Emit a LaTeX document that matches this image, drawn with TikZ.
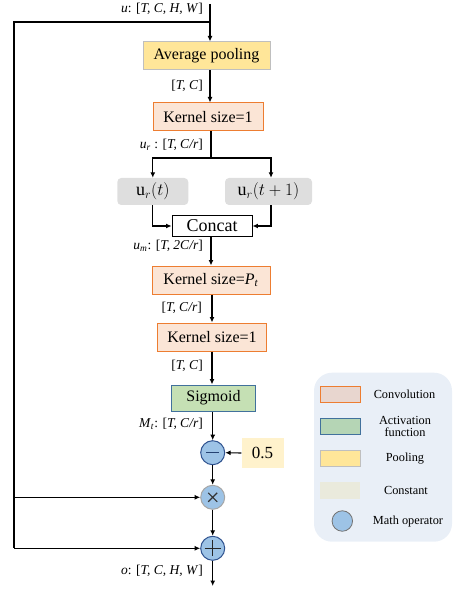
\documentclass[tikz,border=0pt]{standalone}
\usepackage{fontspec}
\setmainfont{Liberation Serif}
\usetikzlibrary{arrows.meta,calc}

\definecolor{poolfill}{HTML}{FFE699}
\definecolor{poolline}{HTML}{BFBFBF}
\definecolor{convfill}{HTML}{FBE5D6}
\definecolor{convline}{HTML}{ED7D31}
\definecolor{actfill}{HTML}{C5E0B4}
\definecolor{actline}{HTML}{41719C}
\definecolor{greybox}{HTML}{DEDEDE}
\definecolor{constfill}{HTML}{FFF2CC}
\definecolor{opfill}{HTML}{9DC3E6}
\definecolor{opdark}{HTML}{2F528F}
\definecolor{opgrey}{HTML}{A6A6A6}
\definecolor{legbg}{HTML}{E9EFF7}
\definecolor{legconv}{HTML}{E8D6CF}
\definecolor{legact}{HTML}{B5D5B5}
\definecolor{legconst}{HTML}{EAEADC}

\tikzset{
  arr/.style={line width=1.1pt,-{Latex[length=5.5pt,width=5pt]}},
  ln/.style={line width=1.1pt},
  boxlabel/.style={font=\rmfamily\fontsize{16}{18}\selectfont},
  poolbox/.style={boxlabel,draw=poolline,fill=poolfill,line width=1pt,minimum height=28pt,inner sep=0pt},
  convbox/.style={boxlabel,draw=convline,fill=convfill,line width=1pt,minimum height=28pt,inner sep=0pt},
  actbox/.style={boxlabel,draw=actline,fill=actfill,line width=1pt,minimum height=26pt,inner sep=0pt},
  greyterm/.style={fill=greybox,rounded corners=4pt,minimum height=27pt,inner sep=0pt,font=\rmfamily\fontsize{18}{20}\selectfont},
  opnode/.style={circle,fill=opfill,line width=1pt,minimum size=24pt,inner sep=0pt},
  shape label/.style={anchor=east,inner sep=0pt,font=\rmfamily\fontsize{13.5}{15}\selectfont},
  legtext/.style={font=\rmfamily\fontsize{12.3}{13.5}\selectfont,align=center,inner sep=0pt},
}

\begin{document}
\begin{tikzpicture}[x=1pt,y=-1pt]
\useasboundingbox (0,0) rectangle (454,593);

% ---------- main column ----------
\node[poolbox,minimum width=127pt] (pool) at (206.5,56) {Average pooling};
\node[convbox,minimum width=110pt] (k1) at (208,117) {Kernel size=1};
\node[greyterm,minimum width=71pt] (ut) at (152.8,191.5) {$\mathrm{u}_r(t)$};
\node[greyterm,minimum width=87pt] (ut1) at (268.5,191.5) {$\mathrm{u}_r(t+1)$};
\node[draw,fill=white,line width=0.9pt,minimum width=80pt,minimum height=21pt,inner sep=0pt,
      font=\rmfamily\fontsize{18}{20}\selectfont] (concat) at (212,226) {Concat};
\node[convbox,minimum width=118pt] (kpt) at (211,280) {Kernel size=\textit{P}\textsubscript{\textit{t}}};
\node[convbox,minimum width=109pt] (k2) at (212,337) {Kernel size=1};
\node[actbox,minimum width=84pt] (sig) at (213.5,398) {Sigmoid};
\node[opnode,draw=opdark] (minus) at (212.7,452.7) {};
\node[opnode,draw=opgrey] (times) at (212.7,497.3) {};
\node[opnode,draw=opdark] (plus) at (212.7,548.3) {};
\node[fill=constfill,minimum width=42pt,minimum height=30pt,inner sep=0pt,
      font=\rmfamily\fontsize{17}{19}\selectfont] (half) at (262.5,453) {0.5};

% operator glyphs
\draw[line width=1.3pt,opdark!80!black] ($(minus)+(-6.5,0)$) -- ($(minus)+(6.5,0)$);
\draw[line width=1.2pt,black!80] ($(times)+(-4.5,-4.5)$) -- ($(times)+(4.5,4.5)$)
                                 ($(times)+(-4.5,4.5)$) -- ($(times)+(4.5,-4.5)$);
\draw[line width=1.4pt,black!85] ($(plus)+(-8,0)$) -- ($(plus)+(8,0)$)
                                 ($(plus)+(0,-8)$) -- ($(plus)+(0,8)$);

% ---------- connectors ----------
\coordinate (in) at (210,4);
\coordinate (fork) at (210,22);
\coordinate (left) at (14,22);
\coordinate (split) at (211,158);
\coordinate (rx) at (271,158);
\coordinate (out) at (212.7,586);

\draw[arr] (in) -- (pool.north -| in);
\draw[ln] (fork) -- (left) -- (left |- plus);
\draw[arr] (left |- plus) -- (plus.west);
\draw[arr] (left |- times) -- (times.west);

\draw[arr] (pool.south -| in) -- (k1.north -| in);
\draw[ln] (k1.south -| split) -- (split);
\draw[arr] (split) -| (ut.north);
\draw[arr] (split) -- (rx) -- (ut1.north -| rx);
\draw[arr] (ut.south) |- (concat.west);
\draw[arr] (ut1.south -| rx) |- (concat.east);
\draw[arr] (concat.south -| kpt) -- (kpt.north);
\draw[arr] (kpt.south -| k2) -- (k2.north);
\draw[arr] (k2.south) -- (k2.south |- sig.north);
\draw[arr] (sig.south -| minus) -- (minus.north);
\draw[arr] (half.west) -- (minus.east);
\draw[arr] (minus.south) -- (times.north);
\draw[arr] (times.south) -- (plus.north);
\draw[arr] (plus.south) -- (out);

% ---------- shape labels ----------
\node[shape label] (l0) at (203,9)   {\textit{u}: [\textit{T, C, H, W}]};
\node[shape label] (l1) at (203,86)  {[\textit{T, C}]};
\node[shape label] (l2) at (203,145) {\textit{u}\textsubscript{\textit{r}} : [\textit{T, C/r}]};
\node[shape label] (l3) at (203,246) {\textit{u}\textsubscript{\textit{m}}: [\textit{T, 2C/r}]};
\node[shape label] (l4) at (202,308) {[\textit{T, C/r}]};
\node[shape label] (l5) at (203,366) {[\textit{T, C}]};
\node[shape label] (l6) at (203,424) {\textit{M}\textsubscript{\textit{t}}: [\textit{T, C/r}]};
\node[shape label] (l7) at (203,571) {\textit{o}: [\textit{T, C, H, W}]};

% ---------- legend ----------
\node[fill=legbg,rounded corners=18pt,minimum width=138pt,minimum height=169pt,inner sep=0pt]
  (legend) at (383,457.2) {};
\node[draw=convline,fill=legconv,line width=1pt,minimum width=40pt,minimum height=16.5pt,inner sep=0pt]
  (s1) at (340,394.4) {};
\node[draw=actline,fill=legact,line width=1pt,minimum width=40pt,minimum height=15.5pt,inner sep=0pt]
  (s2) at (340,426.4) {};
\node[draw=poolline,fill=poolfill,line width=1pt,minimum width=40pt,minimum height=16pt,inner sep=0pt]
  (s3) at (340,458) {};
\node[fill=legconst,minimum width=40pt,minimum height=17.5pt,inner sep=0pt]
  (s4) at (340,490.5) {};
\node[circle,draw=black!55,fill=opfill,line width=0.8pt,minimum size=20.5pt,inner sep=0pt]
  (s5) at (342.3,521) {};
\node[legtext] (t1) at (404.5,394) {Convolution};
\node[legtext] (t2) at (405,426.7) {Activation\\[-1pt]function};
\node[legtext] (t3) at (405,459) {Pooling};
\node[legtext] (t4) at (406,490.7) {Constant};
\node[legtext] (t5) at (408,521.7) {Math operator};
\end{tikzpicture}
\end{document}
